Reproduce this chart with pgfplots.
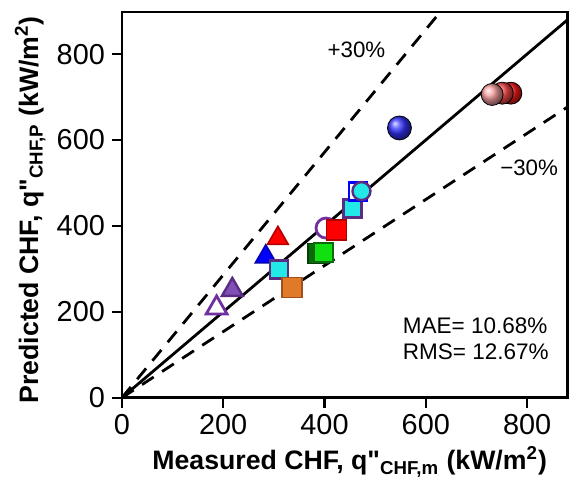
\documentclass[border=0pt]{standalone}
\usepackage{fontspec}
\setmainfont{Liberation Sans}
\usepackage{pgfplots}
\pgfplotsset{compat=1.18}
\definecolor{purp}{HTML}{7030A0}
\definecolor{dpurp}{HTML}{5A2D82}
\definecolor{mpurp}{HTML}{8050B8}
\definecolor{cyn}{HTML}{22E8E8}
\definecolor{orng}{HTML}{E07A28}
\definecolor{dorng}{HTML}{A0501A}
\definecolor{dgreen}{HTML}{0A6A0A}
\definecolor{ddgreen}{HTML}{034003}
\definecolor{bgreen}{HTML}{10E010}
\definecolor{pinkb}{HTML}{F8A0A0}
\begin{document}
\begin{tikzpicture}
\begin{axis}[name=ax, scale only axis, width=223bp, height=193bp,
  xmin=0, xmax=880, ymin=0, ymax=898,
  axis line style={line width=1.4bp},
  tick style={line width=1.1bp, black},
  tick align=outside, major tick length=5bp,
  xtick pos=left, ytick pos=left,
  xtick={0,200,400,600,800}, ytick={0,200,400,600,800},
  ticklabel style={font=\fontsize{14.5}{17}\selectfont},
  /pgf/number format/assume math mode=true,
  xlabel={Measured CHF, q\textquotedbl\textsubscript{CHF,m} (kW/m\textsuperscript{2})},
  ylabel={Predicted CHF, q\textquotedbl\textsubscript{CHF,P} (kW/m\textsuperscript{2})},
  every axis x label/.style={at={(axis description cs:0.511,-0.166)}, anchor=center, font=\bfseries\fontsize{13.4}{16}\selectfont},
  every axis y label/.style={at={(axis description cs:-0.206,0.487)}, anchor=center, rotate=90, font=\bfseries\fontsize{13.4}{16}\selectfont},
]
\addplot[line width=1.4bp, black] coordinates {(0,0) (880,880)};
\addplot[line width=1.4bp, black, dash pattern=on 7bp off 5bp] coordinates {(0,0) (660,942.9)};
\addplot[line width=1.4bp, black, dash pattern=on 7bp off 5bp] coordinates {(0,0) (880,676.9)};
% triangles
\addplot[only marks, mark=triangle*, mark size=6bp, mark options={fill=white, draw=purp, line width=1.4bp}] coordinates {(187,209)};
\addplot[only marks, mark=triangle*, mark size=6bp, mark options={fill=mpurp, draw=dpurp, line width=1.2bp}] coordinates {(218,251)};
\addplot[only marks, mark=triangle*, mark size=6bp, mark options={fill=blue, draw=blue!70!black, line width=0.8bp}] coordinates {(284,328)};
\addplot[only marks, mark=triangle*, mark size=6bp, mark options={fill=red, draw=red!70!black, line width=0.8bp}] coordinates {(308,371)};
% squares
\addplot[only marks, mark=square*, mark size=4.5bp, mark options={fill=cyn, draw=dpurp, line width=1.4bp}] coordinates {(310,299)};
\addplot[only marks, mark=square*, mark size=5bp, mark options={fill=orng, draw=dorng, line width=0.8bp}] coordinates {(336,257)};
\addplot[only marks, mark=square*, mark size=5bp, mark options={fill=dgreen, draw=ddgreen, line width=0.8bp}] coordinates {(387,336)};
\addplot[only marks, mark=square*, mark size=4.8bp, mark options={fill=bgreen, draw=dgreen, line width=1.2bp}] coordinates {(398,338)};
\addplot[only marks, mark=*, mark size=5bp, mark options={fill=white, draw=purp, line width=1.4bp}] coordinates {(403,395)};
\addplot[only marks, mark=square*, mark size=5bp, mark options={fill=red, draw=red!70!black, line width=0.8bp}] coordinates {(424,391)};
\addplot[only marks, mark=square*, mark size=4.5bp, mark options={fill=cyn, draw=dpurp, line width=1.4bp}] coordinates {(456,441)};
\addplot[only marks, mark=square*, mark size=4.5bp, mark options={fill=white, draw=blue, line width=1.4bp}] coordinates {(466,481)};
\addplot[only marks, mark=*, mark size=4.5bp, mark options={fill=cyn, draw=dpurp, line width=1.2bp}] coordinates {(473,481)};
% spheres
\addplot[only marks, mark=ball, mark size=6bp, ball color=blue!80!white] coordinates {(548,628)};
\addplot[only marks, mark=ball, mark size=5.5bp, ball color=red!90!white] coordinates {(768,709)};
\addplot[only marks, mark=ball, mark size=5.5bp, ball color=red!70!white] coordinates {(751,709)};
\addplot[only marks, mark=ball, mark size=5.5bp, ball color=pinkb] coordinates {(731,706)};
\node[font=\fontsize{11.2}{13}\selectfont] at (axis cs:463,809) {+30\%};
\node[font=\fontsize{11.2}{13}\selectfont] at (axis cs:804,535) {−30\%};
\node[font=\fontsize{11.3}{13}\selectfont, anchor=west, inner sep=0pt] at (axis cs:554,167) {MAE= 10.68\%};
\node[font=\fontsize{11.3}{13}\selectfont, anchor=west, inner sep=0pt] at (axis cs:554,107) {RMS= 12.67\%};
\end{axis}
\path (ax.south west) ++(-61bp,-40.5bp) coordinate (a);
\path (ax.north east) ++(0.5bp,6bp) coordinate (b);
\path (a) rectangle (b);
\end{tikzpicture}
\end{document}
